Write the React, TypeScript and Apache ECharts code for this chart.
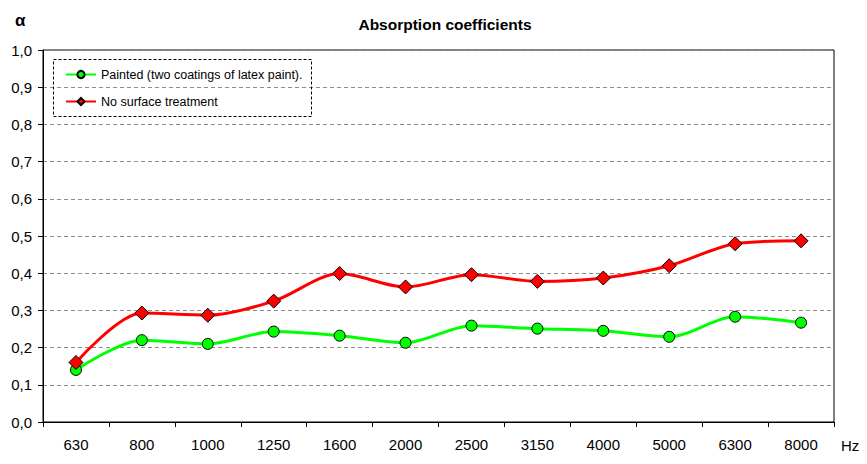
import React, { useEffect, useRef } from "react";
import * as echarts from "echarts";

const categories = ["630", "800", "1000", "1250", "1600", "2000", "2500", "3150", "4000", "5000", "6300", "8000"];
const painted = [0.14, 0.22, 0.21, 0.243, 0.232, 0.213, 0.259, 0.251, 0.245, 0.229, 0.283, 0.267];
const untreated = [0.16, 0.293, 0.287, 0.325, 0.399, 0.363, 0.396, 0.378, 0.387, 0.42, 0.479, 0.487];
const seriesNames = ["Painted (two coatings of latex paint).", "No surface treatment"];
const titleText = "Absorption coefficients";
const yUnit = "α";
const xUnit = "Hz";

const FONT = "Liberation Sans, Arial, sans-serif";

export default function App() {
  const ref = useRef<HTMLDivElement>(null);
  useEffect(() => {
    if (!ref.current) return;
    const chart = echarts.init(ref.current, null, { renderer: "svg" });
    chart.setOption({
      animation: false,
      backgroundColor: "#fff",
      textStyle: { fontFamily: FONT },
      title: {
        text: titleText,
        left: 440,
        top: 11,
        textAlign: "center",
        textStyle: { fontFamily: FONT, fontSize: 15.5, fontWeight: "bold", color: "#000" },
      },
      grid: {
        left: 43,
        right: 33,
        top: 50,
        bottom: 42,
        show: true,
        borderColor: "#000",
        borderWidth: 1,
        containLabel: false,
      },
      legend: {
        orient: "vertical",
        left: 60,
        top: 63,
        itemWidth: 30,
        itemHeight: 9,
        itemGap: 14,
        textStyle: { fontFamily: FONT, fontSize: 12.5, color: "#000" },
        data: seriesNames,
      },
      graphic: [
        {
          type: "rect",
          shape: { x: 53.5, y: 59.5, width: 258, height: 57 },
          style: { fill: "none", stroke: "#000", lineWidth: 1, lineDash: [3, 2] },
          z: 10,
        },
        {
          type: "text",
          left: 15,
          top: 12,
          style: { text: yUnit, font: "bold 17px " + FONT, fill: "#000" },
        },
        {
          type: "text",
          left: 841,
          top: 438,
          style: { text: xUnit, font: "15px " + FONT, fill: "#000" },
        },
      ],
      xAxis: {
        type: "category",
        data: categories,
        boundaryGap: true,
        axisLine: { lineStyle: { color: "#000", width: 1 } },
        axisTick: { show: true, inside: false, length: 5, lineStyle: { color: "#000" } },
        axisLabel: { fontFamily: FONT, fontSize: 15, color: "#000", margin: 15 },
        splitLine: { show: false },
      },
      yAxis: {
        type: "value",
        min: 0,
        max: 1,
        interval: 0.1,
        axisLine: { show: true, lineStyle: { color: "#000", width: 1 } },
        axisTick: { show: true, inside: false, length: 5, lineStyle: { color: "#000" } },
        axisLabel: {
          fontFamily: FONT,
          fontSize: 15,
          color: "#000",
          margin: 11,
          formatter: (v: number) => v.toFixed(1).replace(".", ","),
        },
        splitLine: { show: true, lineStyle: { color: "#8c8c8c", type: [4, 3], width: 1 } },
      },
      series: [
        {
          name: seriesNames[0],
          type: "line",
          data: painted,
          smooth: 0.3,
          symbol: "circle",
          symbolSize: 11,
          lineStyle: { color: "#00ff00", width: 3 },
          itemStyle: { color: "#00ff00", borderColor: "#000", borderWidth: 1 },
          z: 3,
        },
        {
          name: seriesNames[1],
          type: "line",
          data: untreated,
          smooth: 0.3,
          symbol: "diamond",
          symbolSize: 14,
          lineStyle: { color: "#ff0000", width: 3 },
          itemStyle: { color: "#ff0000", borderColor: "#000", borderWidth: 1 },
          z: 4,
        },
      ],
    });
    return () => chart.dispose();
  }, []);
  return <div ref={ref} style={{ position: "fixed", left: 0, top: 0, width: 867, height: 464 }} />;
}
